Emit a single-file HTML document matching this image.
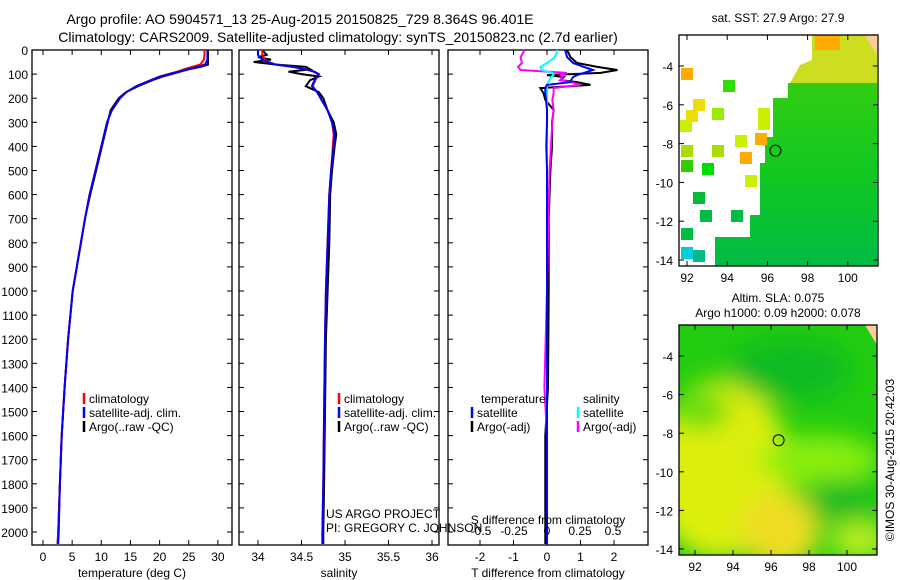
<!DOCTYPE html>
<html><head><meta charset="utf-8"><style>
body{margin:0;background:#fff;}
svg{display:block;font-family:"Liberation Sans",sans-serif;}
text{font-size:12px;fill:#000;}
</style></head><body>
<svg id="chart" width="900" height="580" viewBox="0 0 900 580">
<text x="300" y="24" text-anchor="middle" style="font-size:14px">Argo profile: AO 5904571_13 25-Aug-2015 20150825_729 8.364S 96.401E</text>
<text x="338" y="42" text-anchor="middle" style="font-size:14px">Climatology: CARS2009. Satellite-adjusted climatology: synTS_20150823.nc (2.7d earlier)</text>
<g id="g"></g>
</svg>
<script>
// ---- data ----
const depthTicks=[0,100,200,300,400,500,600,700,800,900,1000,1100,1200,1300,1400,1500,1600,1700,1800,1900,2000];
const tDepth=[0,20,40,60,70,80,90,100,110,125,150,175,200,250,300,350,400,500,600,700,800,1000,1200,1400,1600,1800,2000,2050];
const tClim=[27.7,27.7,27.6,27.0,25.5,24.2,23,21.5,20,18.5,16,14.3,13.2,11.8,11,10.5,10,9.0,8.0,7.2,6.5,5.1,4.3,3.7,3.2,2.9,2.6,2.5];
const tAdj=[28.2,28.2,28.2,27.8,26.5,24.8,23.3,21.7,20.2,18.6,16,14.3,13.2,11.8,11,10.5,10,9.0,8.0,7.2,6.5,5.1,4.3,3.7,3.2,2.9,2.7,2.6];
const tArgo=[28.3,28.3,28.3,28.3,27,25,23.5,22,20.5,18.8,16.3,14.2,13.0,11.6,11.1,10.6,10.1,9.1,8.1,7.2,6.5,5.1,4.3,3.7,3.2,2.9,2.6,2.5];
const tTicks=[0,5,10,15,20,25,30];
const sDepth=[0,20,30,40,50,60,70,80,90,100,110,125,150,175,200,250,300,350,400,500,600,800,1000,1200,1500,1800,2000,2050];
const sClim=[34.05,34.05,34.06,34.08,34.12,34.2,34.4,34.55,34.64,34.69,34.68,34.66,34.63,34.68,34.72,34.8,34.85,34.87,34.86,34.84,34.82,34.8,34.78,34.77,34.76,34.75,34.74,34.74];
const sAdj=[34.0,34.0,34.02,34.05,34.1,34.2,34.4,34.55,34.65,34.7,34.68,34.65,34.62,34.68,34.72,34.8,34.85,34.88,34.87,34.84,34.82,34.8,34.78,34.77,34.76,34.75,34.74,34.74];
const sArgo=[34.05,34.1,34.0,34.15,33.95,34.2,34.55,34.6,34.35,34.5,34.7,34.6,34.55,34.7,34.75,34.8,34.87,34.9,34.88,34.85,34.83,34.82,34.8,34.78,34.77,34.76,34.75,34.75];
const sTicks=[34,34.5,35,35.5,36];
const dDepth=[0,30,54,70,83,95,104,112,125,133,145,158,180,207,249,300,400,500,700,1000,1400,1600,2000,2050];
const dTAdj=[0.54,0.6,0.78,1.1,1.37,1.1,0.9,0.78,0.72,0.7,0.0,-0.05,-0.05,-0.03,0.0,0.0,-0.02,0.0,0.0,0.0,0.0,0.0,0.0,0.0];
const dTArgo=[0.6,0.7,0.9,1.5,2.1,1.6,0.0,0.5,0.4,0.9,1.3,-0.2,-0.1,-0.05,0.2,0.15,0.15,0.1,0.05,0.05,0.03,-0.05,-0.05,-0.05];
const dSAdj=[0.08,0.06,0.0,-0.05,-0.04,0.04,0.05,0.03,0.02,0.01,0.0,0.0,0.0,0.0,0.0,0.0,0.0,0.0,0.0,0.0,0.0,0.0,0.0,0.0];
const dSArgo=[-0.17,-0.2,-0.19,-0.22,-0.2,0.15,0.1,0.12,0.1,0.18,0.25,0.05,0.05,0.04,0.05,0.04,0.03,0.02,0.01,0.0,-0.02,0.0,0.0,0.0];
const dtTicks=[-2,-1,0,1,2];
const dsTicks=[-0.5,-0.25,0,0.25,0.5];
const lonTicks=[92,94,96,98,100];
const latTicks=[-4,-6,-8,-10,-12,-14];

// ---- scales ----
const y=d=>50+d*0.241;
const xT=v=>43+v*5.83;
const xS=v=>258+(v-34)*87;
const xDT=v=>547+v*33.5;
const xDS=v=>547+v*132;
const NS="http://www.w3.org/2000/svg";
const G=document.getElementById('g');
function el(tag,attrs,parent){const e=document.createElementNS(NS,tag);for(const k in attrs)e.setAttribute(k,attrs[k]);(parent||G).appendChild(e);return e;}
function txt(x,yy,s,anchor,parent,size){const t=el('text',{x:x,y:yy,'text-anchor':anchor||'start'},parent);if(size)t.style.fontSize=size+'px';t.textContent=s;return t;}
function line(xs,ds,xf,col,w,name){const p=xs.map((v,i)=>xf(v).toFixed(1)+','+y(ds[i]).toFixed(1)).join(' ');
 const e=el('polyline',{points:p,fill:'none',stroke:col,'stroke-width':w});
 
 }
function panel(x0,x1,name){const r=el('rect',{x:x0,y:50,width:x1-x0,height:495,fill:'none',stroke:'#000','stroke-width':1.3});
 
 
 depthTicks.forEach(d=>{el('line',{x1:x0,x2:x0+5,y1:y(d),y2:y(d),stroke:'#000'});el('line',{x1:x1,x2:x1-5,y1:y(d),y2:y(d),stroke:'#000'});});}
depthTicks.forEach(d=>{const t=txt(28,y(d)+5,String(d),'end');
 
 });
// panel 1
panel(32,232,'temperature-panel');
tTicks.forEach(v=>{el('line',{x1:xT(v),x2:xT(v),y1:50,y2:55,stroke:'#000'});el('line',{x1:xT(v),x2:xT(v),y1:545,y2:540,stroke:'#000'});
 const t=txt(xT(v),561,String(v),'middle');
 
 });
txt(132,577,'temperature (deg C)','middle');
line(tArgo,tDepth,xT,'#000',2,'temperature-argo-line');
line(tClim,tDepth,xT,'#f00',2,'temperature-climatology-line');
line(tAdj,tDepth,xT,'#00f',2,'temperature-satellite-adj-line');
// panel 2
panel(239,439,'salinity-panel');
sTicks.forEach(v=>{el('line',{x1:xS(v),x2:xS(v),y1:50,y2:55,stroke:'#000'});el('line',{x1:xS(v),x2:xS(v),y1:545,y2:540,stroke:'#000'});
 const t=txt(xS(v),561,String(v),'middle');
 
 });
txt(339,577,'salinity','middle');
line(sArgo,sDepth,xS,'#000',2,'salinity-argo-line');
line(sClim,sDepth,xS,'#f00',2,'salinity-climatology-line');
line(sAdj,sDepth,xS,'#00f',2,'salinity-satellite-adj-line');
// panel 3
panel(448,648,'difference-panel');
dtTicks.forEach(v=>{el('line',{x1:xDT(v),x2:xDT(v),y1:50,y2:55,stroke:'#000'});el('line',{x1:xDT(v),x2:xDT(v),y1:545,y2:540,stroke:'#000'});
 const t=txt(xDT(v),561,String(v),'middle');
 
 });
txt(548,577,'T difference from climatology','middle');
line(dTArgo,dDepth,xDT,'#000',2,'t-diff-argo-line');
line(dSArgo,dDepth,xDS,'#f0f',2,'s-diff-argo-line');
line(dSAdj,dDepth,xDS,'#0ff',2,'s-diff-satellite-line');
line(dTAdj,dDepth,xDT,'#00f',2,'t-diff-satellite-line');
dsTicks.forEach(v=>{const t=txt(xDS(v),535,String(v),'middle');
 
 });
txt(548,524,'S difference from climatology','middle');
function leg(x,yy,col,label){el('line',{x1:x,x2:x,y1:yy-10,y2:yy+1,stroke:col,'stroke-width':2.5});txt(x+5,yy,label,'start');}
leg(84,403,'#f00','climatology');leg(84,417,'#00f','satellite-adj. clim.');leg(84,431,'#000','Argo(..raw -QC)');
leg(339,403,'#f00','climatology');leg(339,417,'#00f','satellite-adj. clim.');leg(339,431,'#000','Argo(..raw -QC)');
txt(481,403,'temperature');txt(583,403,'salinity');
leg(472,417,'#00f','satellite');leg(472,431,'#000','Argo(-adj)');
leg(578,417,'#0ff','satellite');leg(578,431,'#f0f','Argo(-adj)');
txt(326,518,'US ARGO PROJECT');txt(326,532,'PI: GREGORY C. JOHNSON');

// ---- maps ----
function mapAxes(x0,y0,x1,y1,lonX,latY,name){
 const r=el('rect',{x:x0,y:y0,width:x1-x0,height:y1-y0,fill:'none',stroke:'#000','stroke-width':1.3});
 
 
 lonTicks.forEach(v=>{const xx=lonX(v);el('line',{x1:xx,x2:xx,y1:y0,y2:y0+5,stroke:'#000'});el('line',{x1:xx,x2:xx,y1:y1,y2:y1-5,stroke:'#000'});
  const t=txt(xx,y1+16,String(v),'middle');
  
  });
 latTicks.forEach(v=>{const yy=latY(v);el('line',{x1:x0,x2:x0+5,y1:yy,y2:yy,stroke:'#000'});el('line',{x1:x1,x2:x1-5,y1:yy,y2:yy,stroke:'#000'});
  const t=txt(x0-6,yy+5,String(v),'end');
  
  });}
const lon1=v=>687+(v-92)*20.1, lat1=v=>66+(-4-v)*19.4;
const lon2=v=>695+(v-92)*19, lat2=v=>356+(-4-v)*19.3;
const defs=el('defs',{});
const lg=el('linearGradient',{id:'gr1',x1:0,y1:0,x2:0,y2:1},defs);
el('stop',{offset:0,'stop-color':'#33cc11'},lg);el('stop',{offset:0.5,'stop-color':'#11c822'},lg);el('stop',{offset:1,'stop-color':'#00bb44'},lg);
const bl=el('filter',{id:'blur'},defs);el('feGaussianBlur',{stdDeviation:12},bl);
const cp=el('clipPath',{id:'c2'},defs);el('rect',{x:679,y:325,width:198,height:230},cp);
const m1=el('g',{});
el('polygon',{points:'788,83 877,83 877,266 715,266 715,237 750,237 750,215 760,215 760,163 765,163 765,137 773,137 773,98 788,98',fill:'url(#gr1)'},m1);
el('polygon',{points:'812,35 865,35 877,45 877,83 790,83 800,65 812,60',fill:'#ccdd22'},m1);
el('rect',{x:815,y:35,width:25,height:15,fill:'#ffaa00'},m1);
el('polygon',{points:'865,35 877,35 877,55',fill:'#ffcc99'},m1);
[[681,68,'#ffaa00'],[723,80,'#33dd00'],[693,99,'#eedd00'],[686,110,'#eedd00'],[680,120,'#ccee00'],[712,108,'#99ee00'],[758,108,'#ccee00'],[755,133,'#ffaa00'],[758,118,'#ccee00'],[735,135,'#ccee00'],[681,145,'#aadd00'],[712,145,'#aadd00'],[740,152,'#ffaa00'],[681,160,'#33cc00'],[702,163,'#00dd00'],[745,175,'#ccee00'],[693,192,'#00bb33'],[700,210,'#00bb44'],[731,210,'#00bb44'],[681,228,'#00bb44'],[681,247,'#00ccdd'],[693,250,'#00bb88']].forEach(c=>{el('rect',{x:c[0],y:c[1],width:12,height:12,fill:c[2]},m1);});
el('circle',{cx:lon1(96.4),cy:lat1(-8.364),r:5.5,fill:'none',stroke:'#000'},m1);
mapAxes(679,35,878,266,lon1,lat1,'sst-map-frame');
txt(778,22,'sat. SST: 27.9 Argo: 27.9','middle',null,12);
const m2=el('g',{'clip-path':'url(#c2)'});
el('rect',{x:679,y:325,width:198,height:230,fill:'#22cc11'},m2);
const bg=el('g',{filter:'url(#blur)'},m2);
el('ellipse',{cx:720,cy:470,rx:70,ry:90,fill:'#ddee11'},bg);
el('ellipse',{cx:780,cy:530,rx:40,ry:40,fill:'#eedd22'},bg);
el('ellipse',{cx:820,cy:460,rx:60,ry:25,fill:'#88ee11'},bg);
el('ellipse',{cx:860,cy:540,rx:30,ry:20,fill:'#bbee22'},bg);
el('ellipse',{cx:700,cy:410,rx:30,ry:20,fill:'#66dd11'},bg);
el('ellipse',{cx:840,cy:500,rx:35,ry:20,fill:'#11bb22'},bg);
el('ellipse',{cx:790,cy:370,rx:60,ry:30,fill:'#11bb22'},bg);
el('polygon',{points:'865,325 877,325 877,345',fill:'#ffcc99'},m2);
el('circle',{cx:lon2(96.4),cy:lat2(-8.364),r:5.5,fill:'none',stroke:'#000'},m2);
mapAxes(679,325,877,555,lon2,lat2,'sla-map-frame');
txt(778,302,'Altim. SLA: 0.075','middle',null,12);
txt(778,317,'Argo h1000: 0.09 h2000: 0.078','middle',null,12);
const cr=txt(0,0,'©IMOS 30-Aug-2015 20:42:03','middle',null,12);
cr.setAttribute('transform','translate(894,460) rotate(-90)');
</script>
</body></html>
